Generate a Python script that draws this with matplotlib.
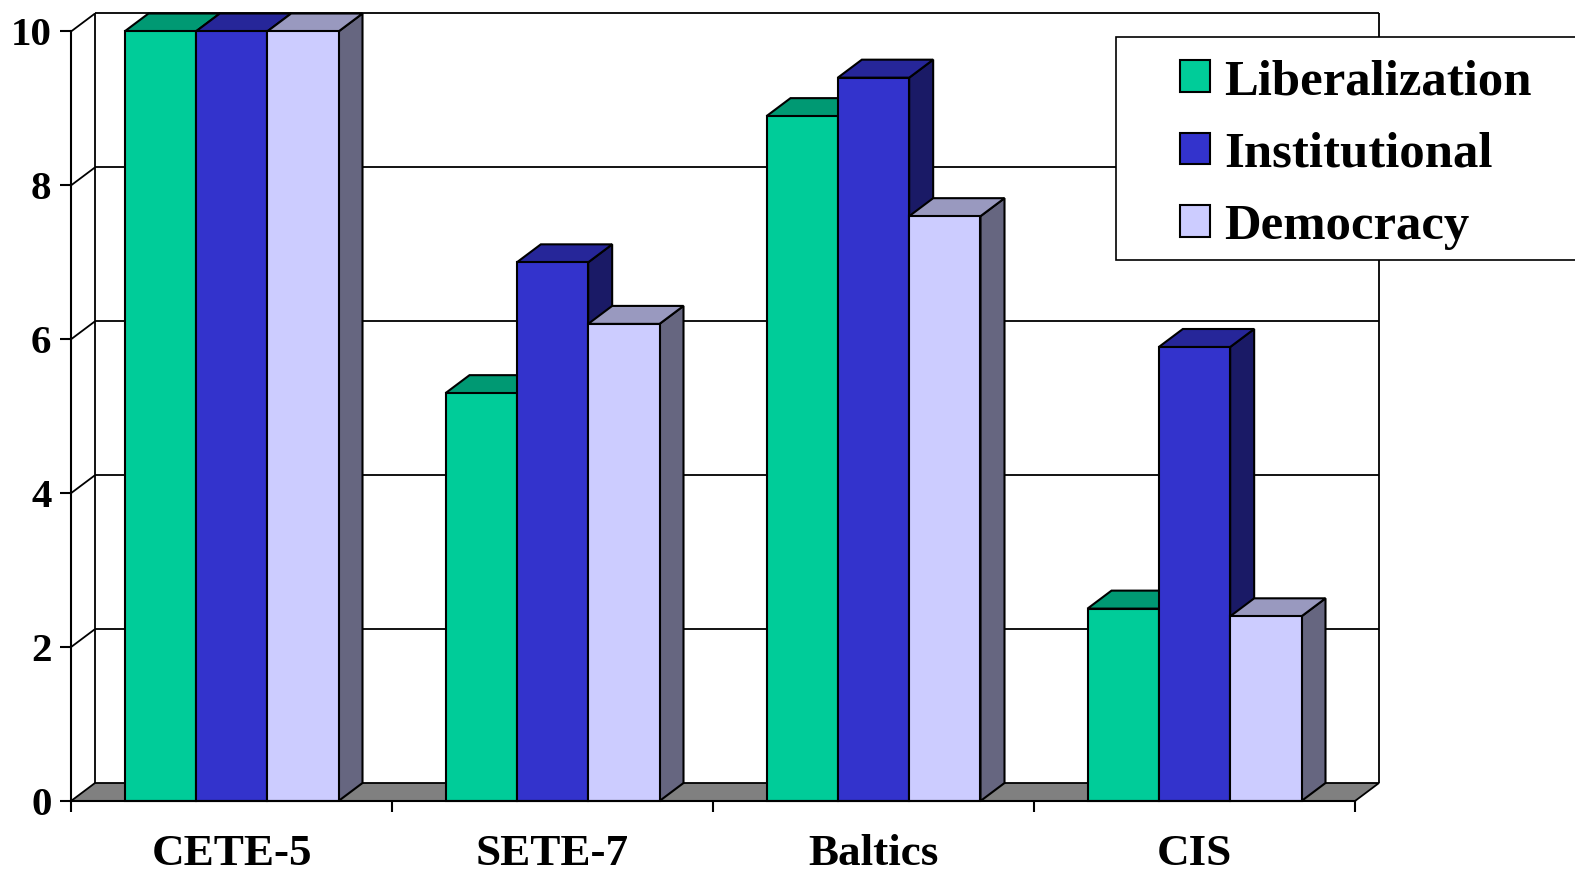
import matplotlib
matplotlib.use("Agg")
import matplotlib.pyplot as plt
from matplotlib.patches import Rectangle, Polygon, Patch

categories = ["CETE-5", "SETE-7", "Baltics", "CIS"]
series_names = ["Liberalization", "Institutional", "Democracy"]
liberalization = [10.0, 5.3, 8.9, 2.5]
institutional = [10.0, 7.0, 9.4, 5.9]
democracy = [10.0, 6.2, 7.6, 2.4]
y_ticks = [0, 2, 4, 6, 8, 10]

front_colors = ["#00CC99", "#3333CC", "#CCCCFF"]
top_colors = ["#009973", "#262699", "#9999BF"]
side_colors = ["#00664C", "#1A1A66", "#666680"]

SERIF = "Liberation Serif"

W, H, DPI = 1575, 871, 100
fig = plt.figure(figsize=(W / DPI, H / DPI), dpi=DPI)
fig.patch.set_facecolor("white")

# front plane of the plot box, in pixels
x0, x1 = 71, 1355
y0, y1 = 801, 31.5
ax = fig.add_axes([x0 / W, 1 - y0 / H, (x1 - x0) / W, (y0 - y1) / H])
ax.set_xlim(0, len(categories))
ax.set_ylim(0, 10)
ax.patch.set_visible(False)

# depth offset of the 3-D box, in data units
DX = 24 / ((x1 - x0) / len(categories))
DY = 18 / ((y0 - y1) / 10)
ncat = len(categories)
grid_kw = dict(color="black", lw=1.3, clip_on=False, zorder=1, solid_capstyle="butt")

# back wall and left wall grid lines
for v in y_ticks[1:]:
    ax.plot([DX, ncat + DX], [v + DY, v + DY], **grid_kw)
    ax.plot([0, DX], [v, v + DY], **grid_kw)
ax.plot([DX, DX], [DY, 10 + DY], **grid_kw)
ax.plot([ncat + DX, ncat + DX], [DY, 10 + DY], **grid_kw)

# floor
ax.add_patch(Polygon([(0, 0), (ncat, 0), (ncat + DX, DY), (DX, DY)],
                     closed=True, facecolor="#808080", edgecolor="black",
                     lw=1.3, clip_on=False, zorder=2))

# 3-D bars
series = [liberalization, institutional, democracy]
bw = 1 / 4.5
gap = (1 - 3 * bw) / 2
edge_kw = dict(edgecolor="black", lw=1.5, clip_on=False, zorder=3,
               joinstyle="miter")
for i in range(ncat):
    for j, vals in enumerate(series):
        v = vals[i]
        left = i + gap + j * bw
        right = left + bw
        ax.add_patch(Polygon([(right, 0), (right + DX, DY), (right + DX, v + DY), (right, v)],
                             closed=True, facecolor=side_colors[j], **edge_kw))
        ax.add_patch(Polygon([(left, v), (right, v), (right + DX, v + DY), (left + DX, v + DY)],
                             closed=True, facecolor=top_colors[j], **edge_kw))
        ax.add_patch(Rectangle((left, 0), bw, v, facecolor=front_colors[j], **edge_kw))

# axes
for s in ("top", "right"):
    ax.spines[s].set_visible(False)
for s in ("left", "bottom"):
    ax.spines[s].set_linewidth(1.5)
    ax.spines[s].set_zorder(4)

ax.set_yticks(y_ticks)
ax.set_yticklabels([str(t) for t in y_ticks], fontsize=29.5, fontweight="bold",
                   family=SERIF)
ax.tick_params(axis="y", length=8, width=1.5, pad=6)

ax.set_xticks(range(ncat + 1))
ax.set_xticklabels([])
ax.tick_params(axis="x", which="major", length=8, width=1.5)
ax.set_xticks([i + 0.5 for i in range(ncat)], minor=True)
ax.set_xticklabels(categories, minor=True, fontsize=32.5, fontweight="bold",
                   family=SERIF)
ax.tick_params(axis="x", which="minor", length=0, pad=23.5)

# legend box and entries
box = Rectangle((1116 / W, 1 - 260 / H), (W + 5 - 1116) / W, (260 - 37) / H,
                transform=fig.transFigure, facecolor="white", edgecolor="black",
                lw=1.2, zorder=4)
fig.add_artist(box)
handles = [Patch(facecolor=c, edgecolor="black", lw=1.5) for c in front_colors]
leg = fig.legend(handles, series_names, loc="upper left",
                 bbox_to_anchor=(1180 / W, 1 - 59 / H), frameon=False,
                 prop=dict(family=SERIF, weight="bold", size=36.5),
                 handlelength=0.59, handleheight=0.59, handletextpad=0.28,
                 borderpad=0, borderaxespad=0, labelspacing=0.52)
leg.set_zorder(5)

fig.savefig("out.png", dpi=DPI, facecolor="white")
